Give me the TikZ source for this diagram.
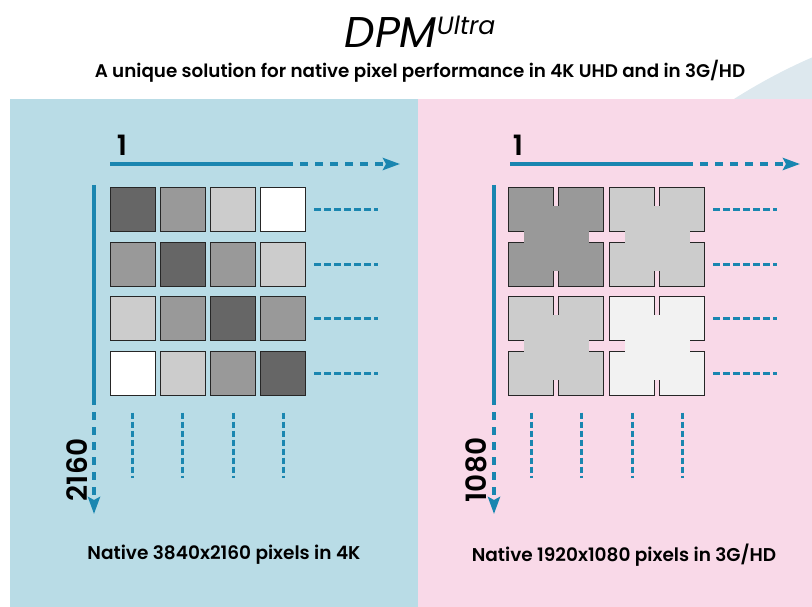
\documentclass[tikz,border=0pt]{standalone}
\usepackage{fontspec}
\setmainfont{Poppins}[BoldFont={Poppins SemiBold}]
\usepackage{tikz}
\usetikzlibrary{positioning, arrows.meta, calc}
\definecolor{panelBlue}{HTML}{B9DCE6}
\definecolor{panelPink}{HTML}{F9D9E8}
\definecolor{arcGray}{HTML}{DDE8EE}
\definecolor{lineBlue}{HTML}{1A86B0}
\definecolor{gDark}{HTML}{666666}
\definecolor{gMid}{HTML}{999999}
\definecolor{gLight}{HTML}{CCCCCC}
\definecolor{gPale}{HTML}{F2F2F2}

\begin{document}
\begin{tikzpicture}[x=1pt, y=-1pt,
  pixel/.style={draw=black!85, line width=1pt, minimum width=45pt,
                minimum height=44pt, inner sep=0pt},
  axis/.style={lineBlue, line width=3.5pt},
  axisdash/.style={lineBlue, line width=3.5pt, dash pattern=on 8pt off 7pt,
                   -{Stealth[length=17pt, width=12pt, inset=3pt]}},
  rowdash/.style={lineBlue, line width=3pt, dash pattern=on 7pt off 3pt},
  coldash/.style={lineBlue, line width=3pt, dash pattern=on 6pt off 3pt},
  count/.style={font=\fontsize{28}{28}\selectfont\bfseries},
  caption/.style={font=\fontsize{18.5}{18.5}\selectfont\bfseries},
]
  \useasboundingbox (0,0) rectangle (812,607);

  % backdrop
  \begin{scope}
    \clip (0,0) rectangle (812,99);
    \fill[arcGray] (1040,580) circle (570);
  \end{scope}
  \fill[panelBlue] (10,99) rectangle (418,607);
  \fill[panelPink] (418,99) rectangle (812,607);

  \node (title) at (420,32) {\fontsize{43}{43}\selectfont\itshape DPM\raisebox{13pt}{\fontsize{25}{25}\selectfont Ultra}};
  \node[font=\fontsize{18.3}{18.3}\selectfont\bfseries] (subtitle) at (420,71)
    {A unique solution for native pixel performance in 4K UHD and in 3G/HD};

  % 4K panel
  \node[count] (one4k) at (122,145) {1};
  \coordinate (h0) at (110,164);
  \coordinate (h1) at (285,164);
  \coordinate (h2) at (400,164);
  \draw[axis] (h0) -- (h1);
  \draw[axisdash] (h1) -- (h2);
  \coordinate (v0) at (94,185);
  \coordinate (v1) at (94,397);
  \coordinate (v2) at (94,514);
  \draw[axis] (v0) -- (v1);
  \draw[axisdash] (v1) -- (v2);
  \node[count, rotate=90] (rows4k) at (77,470) {2160};

  \node[pixel, fill=gDark]  (a11) at (132.5,210) {};
  \node[pixel, fill=gMid]   (a12) at (182.5,210) {};
  \node[pixel, fill=gLight] (a13) at (233,210) {};
  \node[pixel, fill=white]  (a14) at (283,210) {};
  \node[pixel, fill=gMid]   (a21) at (132.5,264) {};
  \node[pixel, fill=gDark]  (a22) at (182.5,264) {};
  \node[pixel, fill=gMid]   (a23) at (233,264) {};
  \node[pixel, fill=gLight] (a24) at (283,264) {};
  \node[pixel, fill=gLight] (a31) at (132.5,318) {};
  \node[pixel, fill=gMid]   (a32) at (182.5,318) {};
  \node[pixel, fill=gDark]  (a33) at (233,318) {};
  \node[pixel, fill=gMid]   (a34) at (283,318) {};
  \node[pixel, fill=white]  (a41) at (132.5,373) {};
  \node[pixel, fill=gLight] (a42) at (182.5,373) {};
  \node[pixel, fill=gMid]   (a43) at (233,373) {};
  \node[pixel, fill=gDark]  (a44) at (283,373) {};

  \draw[rowdash] ($(a14.east)+(8,0)$) -- ++(64,0);
  \draw[rowdash] ($(a24.east)+(8,0)$) -- ++(64,0);
  \draw[rowdash] ($(a34.east)+(8,0)$) -- ++(64,0);
  \draw[rowdash] ($(a44.east)+(8,0)$) -- ++(64,0);
  \draw[coldash] ($(a41.south)+(0,17)$) -- ++(0,65);
  \draw[coldash] ($(a42.south)+(0,17)$) -- ++(0,65);
  \draw[coldash] ($(a43.south)+(0,17)$) -- ++(0,65);
  \draw[coldash] ($(a44.south)+(0,17)$) -- ++(0,65);

  \node[caption] (cap4k) at (224,555) {Native 3840x2160 pixels in 4K};

  % HD panel
  \node[count] (oneHD) at (518,145) {1};
  \coordinate (k0) at (510,164);
  \coordinate (k1) at (685,164);
  \coordinate (k2) at (800,164);
  \draw[axis] (k0) -- (k1);
  \draw[axisdash] (k1) -- (k2);
  \coordinate (w0) at (494,185);
  \coordinate (w1) at (494,397);
  \coordinate (w2) at (494,514);
  \draw[axis] (w0) -- (w1);
  \draw[axisdash] (w1) -- (w2);
  \node[count, rotate=90] (rowsHD) at (476,470) {1080};

  \node[pixel, fill=gMid]   (b11) at (531,210) {};
  \node[pixel, fill=gMid]   (b12) at (581,210) {};
  \node[pixel, fill=gLight] (b13) at (632,210) {};
  \node[pixel, fill=gLight] (b14) at (682,210) {};
  \node[pixel, fill=gMid]   (b21) at (531,264) {};
  \node[pixel, fill=gMid]   (b22) at (581,264) {};
  \node[pixel, fill=gLight] (b23) at (632,264) {};
  \node[pixel, fill=gLight] (b24) at (682,264) {};
  \node[pixel, fill=gLight] (b31) at (531,318) {};
  \node[pixel, fill=gLight] (b32) at (581,318) {};
  \node[pixel, fill=gPale]  (b33) at (632,318) {};
  \node[pixel, fill=gPale]  (b34) at (682,318) {};
  \node[pixel, fill=gLight] (b41) at (531,373) {};
  \node[pixel, fill=gLight] (b42) at (581,373) {};
  \node[pixel, fill=gPale]  (b43) at (632,373) {};
  \node[pixel, fill=gPale]  (b44) at (682,373) {};

  % merged 2x2 blocks
  \fill[gMid]   ($(b11)!0.5!(b22)+(-32.5,-31)$) rectangle ++(65,65);
  \fill[gLight] ($(b13)!0.5!(b24)+(-32.5,-31)$) rectangle ++(65,65);
  \fill[gLight] ($(b31)!0.5!(b42)+(-32.5,-31)$) rectangle ++(65,65);
  \fill[gPale]  ($(b33)!0.5!(b44)+(-32.5,-31)$) rectangle ++(65,65);

  \draw[rowdash] ($(b14.east)+(8,0)$) -- ++(64,0);
  \draw[rowdash] ($(b24.east)+(8,0)$) -- ++(64,0);
  \draw[rowdash] ($(b34.east)+(8,0)$) -- ++(64,0);
  \draw[rowdash] ($(b44.east)+(8,0)$) -- ++(64,0);
  \draw[coldash] ($(b41.south)+(0,17)$) -- ++(0,65);
  \draw[coldash] ($(b42.south)+(0,17)$) -- ++(0,65);
  \draw[coldash] ($(b43.south)+(0,17)$) -- ++(0,65);
  \draw[coldash] ($(b44.south)+(0,17)$) -- ++(0,65);

  \node[caption] (capHD) at (624,555) {Native 1920x1080 pixels in 3G/HD};
\end{tikzpicture}
\end{document}
